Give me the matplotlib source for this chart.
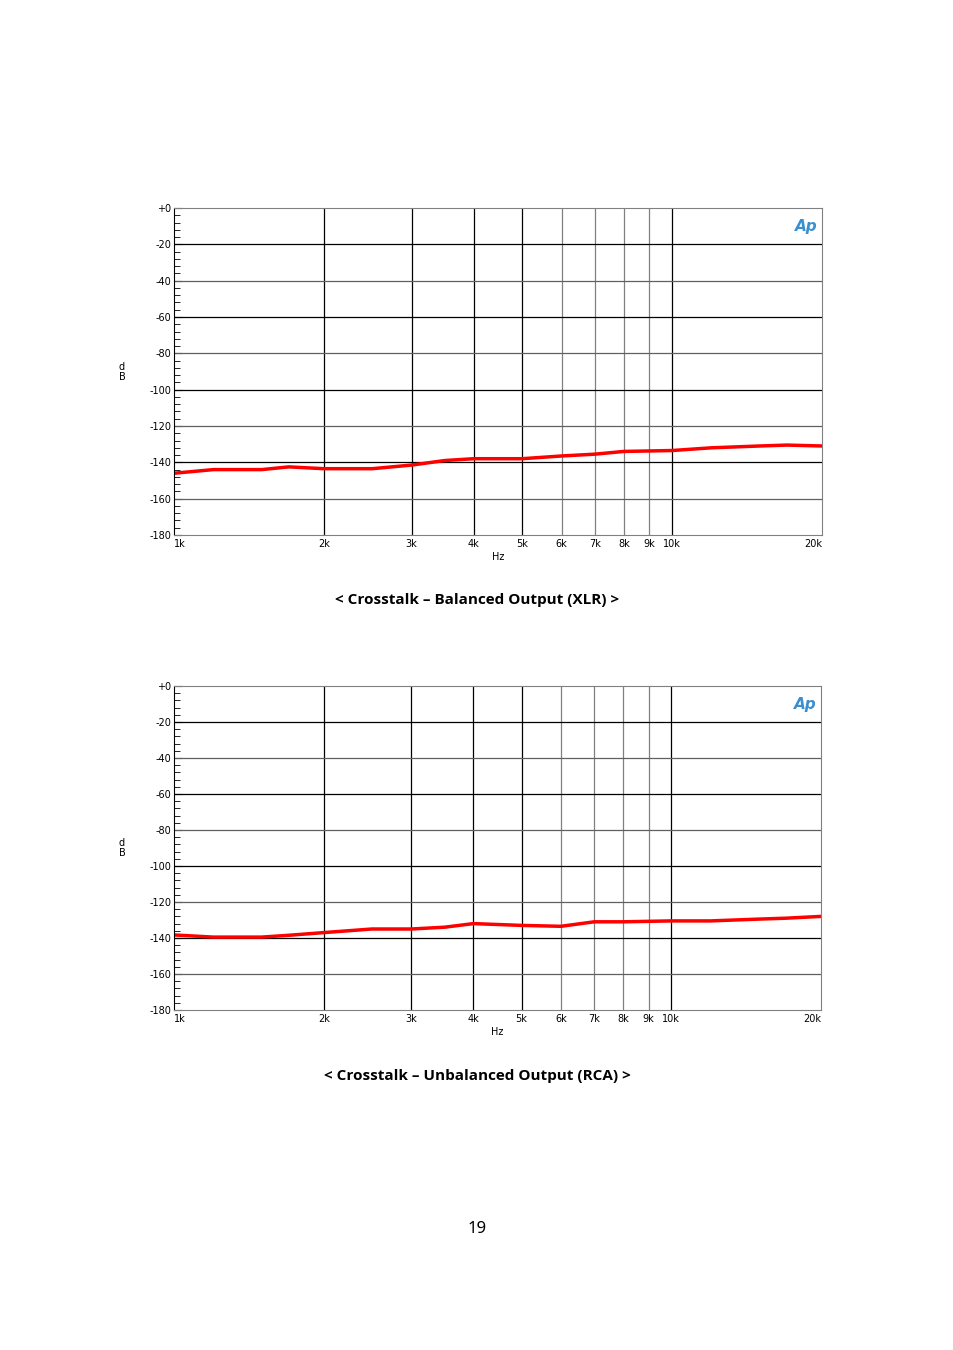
import numpy as np
import matplotlib.pyplot as plt
from matplotlib.ticker import FixedLocator, NullFormatter

freq = [1000, 1200, 1500, 1700, 2000, 2500, 3000, 3500, 4000, 5000, 6000, 7000, 8000, 10000, 12000, 15000, 17000, 20000]
xlr_db = [-146, -144, -144, -142.5, -143.5, -143.5, -141.5, -139, -138, -138, -136.5, -135.5, -134, -133.5, -132, -131, -130.5, -131]
rca_db = [-138.3, -139.5, -139.5, -138.5, -137, -135, -135, -134, -132, -133, -133.5, -131, -131, -130.5, -130.5, -129.5, -129, -128]

x_ticks = [1000, 2000, 3000, 4000, 5000, 6000, 7000, 8000, 9000, 10000, 20000]
x_labels = ['1k', '2k', '3k', '4k', '5k', '6k', '7k', '8k', '9k', '10k', '20k']
y_ticks = list(range(0, -181, -20))
y_labels = ['+0'] + [str(v) for v in y_ticks[1:]]

W, H = 954, 1350
fig = plt.figure(figsize=(W / 100, H / 100), dpi=100)


def draw_panel(left, top, right, bottom, values, title, title_y):
    ax = fig.add_axes([left / W, 1 - bottom / H, (right - left) / W, (bottom - top) / H])
    ax.set_xscale('log')
    ax.set_xlim(1000, 20000)
    ax.set_ylim(-180, 0)
    for f in x_ticks[1:-1]:
        c = '#808080' if 6000 <= f <= 9000 else 'black'
        ax.axvline(f, color=c, lw=0.9)
    for i, v in enumerate(y_ticks[1:-1]):
        ax.axhline(v, color='black' if i % 2 == 0 else '#606060', lw=0.9)
    ax.plot(freq, values, color='#ff0000', lw=2.5)
    ax.xaxis.set_major_locator(FixedLocator(x_ticks))
    ax.set_xticklabels(x_labels, fontsize=7)
    labels = ax.get_xticklabels()
    labels[-1].set_ha('right')
    labels[0].set_ha('left')
    ax.xaxis.set_minor_formatter(NullFormatter())
    ax.xaxis.set_minor_locator(FixedLocator([]))
    ax.set_yticks(y_ticks)
    ax.set_yticklabels(y_labels, fontsize=7)
    ax.set_yticks(np.arange(-180, 1, 4), minor=True)
    ax.tick_params(axis='x', length=0, pad=3)
    ax.tick_params(axis='y', which='major', length=6, direction='in', pad=2)
    ax.tick_params(axis='y', which='minor', length=4, direction='in')
    for s in ax.spines.values():
        s.set_color('#808080')
    ax.spines['left'].set_color('black')
    ax.set_xlabel('Hz', fontsize=7, labelpad=2)
    fig.text(122 / W, 1 - ((top + bottom) / 2) / H, 'd\nB', fontsize=7,
             ha='center', va='center', linespacing=1.0)
    ax.text(0.993, 0.965, 'Ap', transform=ax.transAxes, fontsize=11, color='#3a8fd0',
            style='italic', fontweight='bold', ha='right', va='top')
    fig.text(0.5, 1 - title_y / H, title, fontsize=11, fontweight='bold',
             ha='center', va='center', family='Open Sans')


draw_panel(174, 208, 822, 535, xlr_db, '< Crosstalk – Balanced Output (XLR) >', 600)
draw_panel(174, 686, 821, 1010, rca_db, '< Crosstalk – Unbalanced Output (RCA) >', 1076)
fig.text(0.5, 1 - 1229 / H, '19', fontsize=12, ha='center', va='center', family='Noto Sans')

fig.savefig('out.png', dpi=100)
